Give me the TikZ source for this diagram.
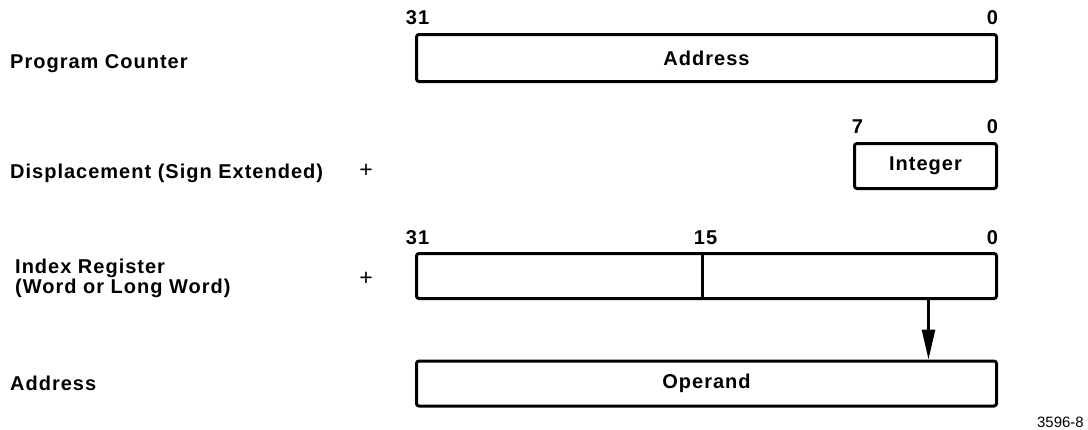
\documentclass[tikz,border=0pt]{standalone}
\usepackage{fontspec}
\setmainfont{Liberation Sans}
\newfontfamily\labfont{Liberation Sans}[LetterSpace=5]
\usetikzlibrary{arrows.meta}
\tikzset{
  lab/.style={font=\labfont\bfseries\fontsize{20}{22}\selectfont, inner sep=0pt},
  plus/.style={font=\labfont\fontsize{23}{25}\selectfont, inner sep=0pt},
  bitno/.style={font=\labfont\bfseries\fontsize{20}{22}\selectfont, inner sep=0pt, anchor=base},
  reg/.style={draw, line width=3pt, rounded corners=2.5pt, rectangle, inner sep=0pt,
              font=\labfont\bfseries\fontsize{20}{22}\selectfont},
  arr/.style={line width=2.5pt, -{Triangle[length=30pt,width=13pt]}},
}
\begin{document}
\begin{tikzpicture}[x=1pt,y=-1pt]
\useasboundingbox (0,0) rectangle (1088,429);
% registers
\node[reg, minimum width=580pt, minimum height=47pt] (pc) at (706.5,58) {Address};
\node[reg, minimum width=142pt, minimum height=45pt] (int) at (925.5,166) {Integer};
\node[reg, minimum width=580pt, minimum height=45pt] (idx) at (706.5,276) {};
\node[reg, minimum width=580pt, minimum height=45pt] (op) at (706.5,383.5) {Operand};
\draw[line width=2.5pt] ([xshift=287.5pt]idx.north west) -- ([xshift=287.5pt]idx.south west);
\draw[arr] ([xshift=-69.5pt]idx.south east) -- ([xshift=-69.5pt]op.north east);
% bit numbers
\node[bitno] (pc31) at (417.5,24) {31};
\node[bitno] (pc0) at (992.5,24) {0};
\node[bitno] (int7) at (857.5,133) {7};
\node[bitno] (int0) at (992.5,133) {0};
\node[bitno] (idx31) at (417.5,244) {31};
\node[bitno] (idx15) at (705.5,244) {15};
\node[bitno] (idx0) at (992.5,244) {0};
% left labels
\node[lab, anchor=base west] (lpc) at (10,68) {Program Counter};
\node[lab, anchor=base west] (ldisp) at (10,178) {Displacement (Sign Extended)};
\node[plus] (p1) at (366,171) {+};
\node[lab, anchor=base west] (lidx1) at (15,273) {Index Register};
\node[lab, anchor=base west] (lidx2) at (15,293) {(Word or Long Word)};
\node[plus] (p2) at (366,279) {+};
\node[lab, anchor=base west] (laddr) at (10,390) {Address};
% figure number
\node[font=\fontsize{15}{17}\selectfont, inner sep=0pt, anchor=base east] (fig) at (1084,427) {3596-8};
\end{tikzpicture}
\end{document}
